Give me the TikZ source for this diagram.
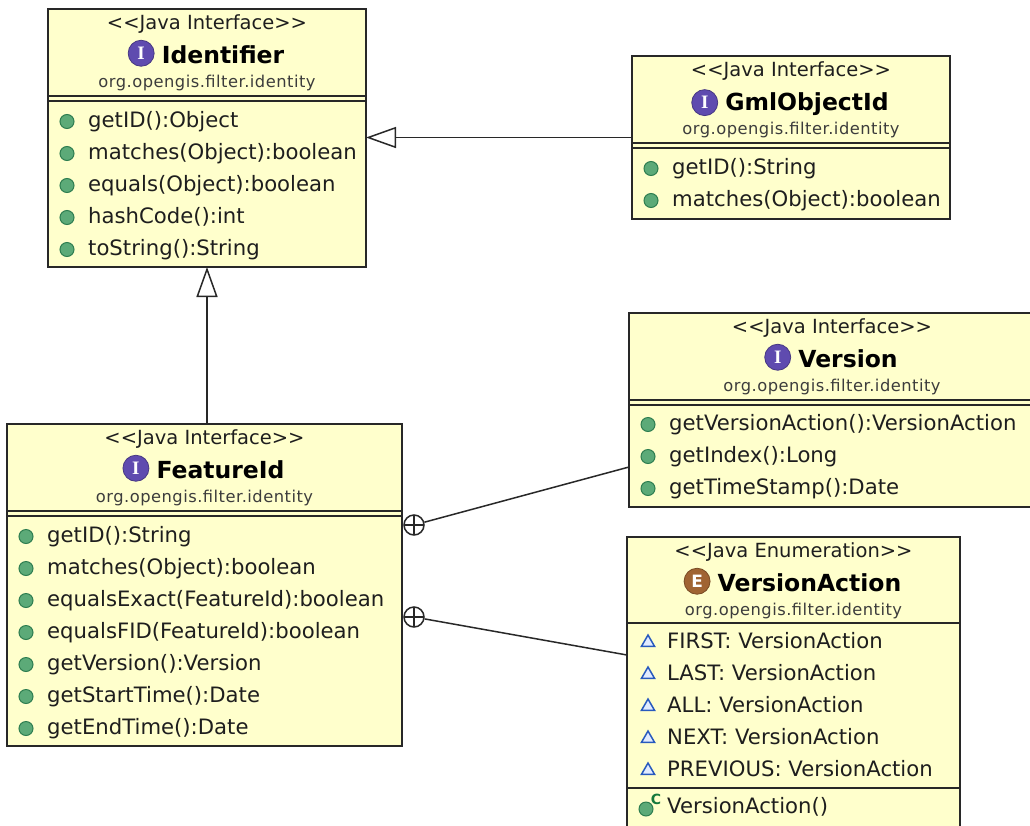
\documentclass[tikz,border=0pt]{standalone}
\usepackage{fontspec}
\setmainfont{DejaVu Sans}
\newfontfamily\pkgfont[LetterSpace=3]{DejaVu Sans}
\newfontfamily\iconserif{Liberation Serif}
\usetikzlibrary{arrows.meta,positioning,shapes.geometric,calc}
\definecolor{boxfill}{RGB}{255,255,204}
\definecolor{boxline}{RGB}{40,40,40}
\definecolor{txt}{RGB}{30,30,30}
\definecolor{pkg}{RGB}{60,60,60}
\definecolor{methfill}{RGB}{92,170,120}
\definecolor{methline}{RGB}{45,125,80}
\definecolor{ipurple}{RGB}{95,75,175}
\definecolor{ebrown}{RGB}{160,100,50}
\definecolor{litblue}{RGB}{40,90,190}
\definecolor{litfill}{RGB}{225,235,255}
\definecolor{cgreen}{RGB}{20,120,60}

\newcommand\ltlt{<\kern0pt<}
\newcommand\gtgt{>\kern0pt>}

\tikzset{
  umlbox/.style={draw=boxline, fill=boxfill, line width=1.5pt, anchor=north west, inner sep=0pt, outer sep=0pt},
  sepline/.style={draw=boxline, line width=1.5pt},
  stereo/.style={font=\fontsize{19.5pt}{22pt}\selectfont, text=txt, inner sep=0pt, anchor=base},
  cname/.style={font=\bfseries\fontsize{23.5pt}{26pt}\selectfont, text=black, inner sep=0pt, anchor=base},
  pkgname/.style={font=\pkgfont\fontsize{16.3pt}{18pt}\selectfont, text=pkg, inner sep=0pt, anchor=base},
  member/.style={font=\fontsize{21.2pt}{24pt}\selectfont, text=txt, inner sep=0pt, anchor=base west},
  meth/.style={circle, draw=methline, fill=methfill, line width=1pt, minimum size=14pt, inner sep=0pt},
  lit/.style={regular polygon, regular polygon sides=3, draw=litblue, fill=litfill, line width=1.5pt, minimum size=15pt, inner sep=0pt},
  iicon/.style={circle, draw=ipurple!75!black, line width=0.8pt, fill=ipurple, text=white, minimum size=26pt, inner sep=0pt, font=\iconserif\bfseries\fontsize{19pt}{19pt}\selectfont},
  eicon/.style={circle, draw=ebrown!75!black, line width=0.8pt, fill=ebrown, text=white, minimum size=26pt, inner sep=0pt, font=\bfseries\fontsize{17pt}{17pt}\selectfont},
  cmark/.style={text=cgreen, inner sep=0pt, font=\bfseries\fontsize{14pt}{14pt}\selectfont},
  gen/.style={draw=boxline, line width=1.5pt, -{Triangle[length=30pt,width=21pt,fill=white]}},
  nest/.style={circle, draw=boxline, fill=white, line width=1.5pt, minimum size=20pt, inner sep=0pt,
    path picture={\draw[boxline, line width=1.5pt] (path picture bounding box.north) -- (path picture bounding box.south)
      (path picture bounding box.east) -- (path picture bounding box.west);}},
  nestline/.style={draw=boxline, line width=1.5pt},
}

\newcommand\umlhead[5]{%
  \node[stereo] (#1-st) at ([yshift=-20pt]#1.north) {#2};
  \node[cname] (#1-nm) at ([xshift=16pt,yshift=-54pt]#1.north) {#3};
  \node[#4, left=7pt of #1-nm.west, anchor=east, yshift=1pt] (#1-ic) {#5};
  \node[pkgname] (#1-pk) at ([yshift=-78pt]#1.north) {org.opengis.filter.identity};
}
\newcommand\dblsep[1]{%
  \draw[sepline] ([yshift=-87pt]#1.north west) -- ([yshift=-87pt]#1.north east);
  \draw[sepline] ([yshift=-92pt]#1.north west) -- ([yshift=-92pt]#1.north east);
}
\newcommand\methods[3]{%
  \foreach \mtext [count=\i from 0] in {#3} {
    \node[meth] (#1-i\i) at ([xshift=19pt, yshift={-(#2-5.5+32*\i)*1pt}]#1.north west) {};
    \node[member] (#1-m\i) at ([xshift=40pt, yshift={-(#2+32*\i)*1pt}]#1.north west) {\mtext};
  }
}
\newcommand\literals[3]{%
  \foreach \mtext [count=\i from 0] in {#3} {
    \node[lit] (#1-i\i) at ([xshift=21pt, yshift={-(#2-5.5+32*\i)*1pt}]#1.north west) {};
    \node[member] (#1-m\i) at ([xshift=40pt, yshift={-(#2+32*\i)*1pt}]#1.north west) {\mtext};
  }
}

\begin{document}
\begin{tikzpicture}[x=1pt, y=-1pt]
  \useasboundingbox (0,0) rectangle (1030,825);
  \fill[white] (0,0) rectangle (1030,825);
  \clip (0,0) rectangle (1030,825);

  % boxes
  \node[umlbox, minimum width=318pt, minimum height=258pt] (idf) at (48,9) {};
  \node[umlbox, minimum width=318pt, minimum height=163pt] (gml) at (632,56) {};
  \node[umlbox, minimum width=395pt, minimum height=322pt] (fid) at (7,424) {};
  \node[umlbox, minimum width=406pt, minimum height=194pt] (ver) at (629,313) {};
  \node[umlbox, minimum width=333pt, minimum height=300pt] (va) at (627,537) {};

  % Identifier
  \umlhead{idf}{\ltlt Java Interface\gtgt}{Identifier}{iicon}{I}
  \dblsep{idf}
  \methods{idf}{118}{getID():Object, matches(Object):boolean, equals(Object):boolean, hashCode():int, toString():String}

  % GmlObjectId
  \umlhead{gml}{\ltlt Java Interface\gtgt}{GmlObjectId}{iicon}{I}
  \dblsep{gml}
  \methods{gml}{118}{getID():String, matches(Object):boolean}

  % FeatureId
  \umlhead{fid}{\ltlt Java Interface\gtgt}{FeatureId}{iicon}{I}
  \dblsep{fid}
  \methods{fid}{118}{getID():String, matches(Object):boolean, equalsExact(FeatureId):boolean, equalsFID(FeatureId):boolean, getVersion():Version, getStartTime():Date, getEndTime():Date}

  % Version
  \umlhead{ver}{\ltlt Java Interface\gtgt}{Version}{iicon}{I}
  \dblsep{ver}
  \methods{ver}{117}{getVersionAction():VersionAction, getIndex():Long, getTimeStamp():Date}

  % VersionAction
  \umlhead{va}{\ltlt Java Enumeration\gtgt}{VersionAction}{eicon}{E}
  \draw[sepline] ([yshift=-86pt]va.north west) -- ([yshift=-86pt]va.north east);
  \literals{va}{111}{FIRST: VersionAction, LAST: VersionAction, ALL: VersionAction, NEXT: VersionAction, PREVIOUS: VersionAction}
  \draw[sepline] ([yshift=-251pt]va.north west) -- ([yshift=-251pt]va.north east);
  \node[meth] (va-ci) at ([xshift=19pt, yshift=-272pt]va.north west) {};
  \node[cmark] (va-cm) at ([xshift=29pt, yshift=-262pt]va.north west) {C};
  \node[member] (va-ctor) at ([xshift=40pt, yshift=-276pt]va.north west) {VersionAction()};

  % generalizations
  \draw[gen] (fid.north -| idf.south) -- (idf.south);
  \draw[gen] (gml.west) -- (gml.west -| idf.east);

  % nesting
  \node[nest] (n1) at ([xshift=12pt, yshift=-101pt]fid.north east) {};
  \node[nest] (n2) at ([xshift=12pt, yshift=-193pt]fid.north east) {};
  \coordinate (v1) at ([yshift=-154pt]ver.north west);
  \coordinate (v2) at ([yshift=-118pt]va.north west);
  \draw[nestline] (n1) -- (v1);
  \draw[nestline] (n2) -- (v2);
\end{tikzpicture}
\end{document}
